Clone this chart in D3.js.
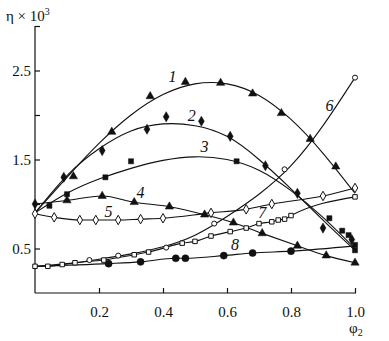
<!DOCTYPE html>
<html>
<head>
<meta charset="utf-8">
<script src="https://cdn.jsdelivr.net/npm/d3@7/dist/d3.min.js"></script>
<style>
  html, body { margin: 0; padding: 0; background: #fff; }
  svg { display: block; }
  text { font-family: "Liberation Serif", "DejaVu Serif", serif; fill: #111; }
</style>
</head>
<body>
<svg id="chart" width="389" height="341"></svg>
<script>
// Volume fraction grid used for the fitted curves
const phiGrid = [0, 0.1, 0.2, 0.3, 0.4, 0.5, 0.6, 0.7, 0.8, 0.9, 1.0];

// Fitted curves (η × 10³) on phiGrid
const fit1 = [0.90, 1.30, 1.68, 2.00, 2.23, 2.35, 2.35, 2.22, 1.95, 1.57, 1.12];
const fit2 = [0.90, 1.32, 1.62, 1.82, 1.90, 1.88, 1.76, 1.50, 1.17, 0.82, 0.48];
const fit3 = [0.90, 1.12, 1.28, 1.40, 1.49, 1.53, 1.50, 1.38, 1.15, 0.85, 0.50];
const fit6 = [0.30, 0.33, 0.38, 0.44, 0.52, 0.65, 0.86, 1.11, 1.43, 1.88, 2.42];

// Measured points [φ2, η × 10³]
const pts1 = [[0.12, 1.31], [0.24, 1.81], [0.36, 2.21], [0.47, 2.37], [0.58, 2.36],
              [0.68, 2.24], [0.77, 2.02], [0.86, 1.73], [0.94, 1.42]];
const pts2 = [[0, 1.00], [0.09, 1.30], [0.21, 1.60], [0.35, 1.84], [0.41, 1.98],
              [0.52, 1.93], [0.61, 1.76], [0.72, 1.43], [0.82, 1.12], [0.90, 0.73],
              [0.99, 0.60]];
const pts3 = [[0.045, 0.98], [0.10, 1.11], [0.22, 1.30], [0.30, 1.48], [0.63, 1.48],
              [0.92, 0.84], [0.96, 0.70], [0.98, 0.65], [1.0, 0.54], [1.0, 0.48]];
const pts4 = [[0, 1.00], [0.10, 1.04], [0.21, 1.09], [0.31, 1.02], [0.42, 0.97],
              [0.53, 0.88], [0.62, 0.79], [0.71, 0.67], [0.82, 0.53], [0.91, 0.42],
              [1.0, 0.34]];
const pts5 = [[0, 0.89], [0.06, 0.85], [0.14, 0.82], [0.19, 0.82], [0.26, 0.82],
              [0.33, 0.83], [0.40, 0.84], [0.55, 0.90], [0.66, 0.94], [0.74, 1.00],
              [0.90, 1.09], [1.0, 1.18]];
const pts6 = [[0.17, 0.37], [0.26, 0.42], [0.41, 0.51], [0.56, 0.78], [0.78, 1.39],
              [1.0, 2.42]];
const pts7 = [[0, 0.30], [0.04, 0.30], [0.085, 0.32], [0.125, 0.34], [0.215, 0.37],
              [0.31, 0.43], [0.355, 0.46], [0.46, 0.56], [0.50, 0.58], [0.55, 0.64],
              [0.61, 0.69], [0.66, 0.73], [0.70, 0.78], [0.74, 0.80], [0.76, 0.82],
              [0.78, 0.83], [0.80, 0.87], [1.0, 1.08]];
const line8 = [[0, 0.30], [0.23, 0.33], [0.33, 0.35], [0.44, 0.39], [0.47, 0.39],
               [0.59, 0.42], [0.68, 0.45], [0.80, 0.47], [1.0, 0.53]];
const pts8 = [[0.23, 0.33], [0.33, 0.35], [0.44, 0.39], [0.47, 0.39],
              [0.59, 0.42], [0.68, 0.45], [0.80, 0.47]];

// Axis ticks
const xTicks = [0.2, 0.4, 0.6, 0.8, 1.0];
const yTicks = [0.5, 1.0, 1.5, 2.0, 2.5, 3.0];
const yLabelled = [0.5, 1.5, 2.5];

// Curve numbers and where they sit [label, φ2, η × 10³]
const curveLabels = [["1", 0.43, 2.43], ["2", 0.49, 2.00], ["3", 0.53, 1.65],
                     ["4", 0.33, 1.13], ["5", 0.23, 0.92], ["6", 0.92, 2.11],
                     ["7", 0.71, 0.90], ["8", 0.625, 0.54]];

const svg = d3.select("#chart");
const x = d3.scaleLinear().domain([0, 1]).range([35, 355]);
const y = d3.scaleLinear().domain([0, 3]).range([293, 26]);

const ink = "#111";

// Axes with inward ticks
const xAxis = d3.axisBottom(x).tickValues(xTicks).tickFormat(d3.format(".1f"))
  .tickSizeInner(-5).tickSizeOuter(0).tickPadding(13);
const yAxis = d3.axisLeft(y).tickValues(yTicks)
  .tickFormat(d => yLabelled.includes(d) ? d3.format(".1f")(d) : "")
  .tickSizeInner(-5).tickSizeOuter(0).tickPadding(4);

const gx = svg.append("g").attr("transform", "translate(0,293)").call(xAxis);
const gy = svg.append("g").attr("transform", "translate(35,0)").call(yAxis);
[gx, gy].forEach(g => {
  g.select(".domain").attr("stroke", ink).attr("stroke-width", 1.2);
  g.selectAll(".tick line").attr("stroke", ink).attr("stroke-width", 1.2);
  g.selectAll(".tick text").attr("font-family", "Liberation Serif, serif")
    .attr("font-size", 15).attr("fill", ink);
});
gx.select(".domain").attr("d", `M${x(0)},0H${x(1) + 1}`);
gy.select(".domain").attr("d", `M0,${y(0)}V${y(3)}`);

// Axis titles
const yt = svg.append("text").attr("x", 6).attr("y", 21).attr("font-size", 15);
yt.append("tspan").text("η × 10");
yt.append("tspan").attr("dy", -6).attr("font-size", 10).text("3");

const xt = svg.append("text").attr("x", 349).attr("y", 333).attr("font-size", 15);
xt.append("tspan").text("φ");
xt.append("tspan").attr("dy", 3).attr("font-size", 10).text("2");

// Lines
const lineGen = d3.line().x(d => x(d[0])).y(d => y(d[1])).curve(d3.curveMonotoneX);
const smoothGen = d3.line().x(d => x(d[0])).y(d => y(d[1])).curve(d3.curveNatural);
const onGrid = vals => phiGrid.map((p, i) => [p, vals[i]]);

const lines = [
  [smoothGen, onGrid(fit1)], [smoothGen, onGrid(fit2)], [smoothGen, onGrid(fit3)],
  [smoothGen, onGrid(fit6)], [lineGen, pts4], [lineGen, pts5], [lineGen, pts7],
  [lineGen, line8]
];
svg.append("g").selectAll("path").data(lines).join("path")
  .attr("d", d => d[0](d[1]))
  .attr("fill", "none").attr("stroke", ink).attr("stroke-width", 1.1);

// Markers
function markers(data, type, size, filled) {
  svg.append("g").selectAll("path").data(data).join("path")
    .attr("transform", d => `translate(${x(d[0])},${y(d[1])})`)
    .attr("d", d3.symbol().type(type).size(size)())
    .attr("fill", filled ? ink : "#fff")
    .attr("stroke", ink).attr("stroke-width", filled ? 0.5 : 1);
}
markers(pts1, d3.symbolTriangle, 30, true);
markers(pts4.slice(1), d3.symbolTriangle, 30, true);
markers(pts3, d3.symbolSquare, 26, true);
markers(pts2, d3.symbolDiamond, 30, true);
markers(pts8, d3.symbolCircle, 40, true);
markers(pts7, d3.symbolSquare, 20, false);
markers(pts6, d3.symbolCircle, 20, false);
markers(pts5, d3.symbolDiamond, 26, false);

// Curve numbers
svg.append("g").selectAll("text").data(curveLabels).join("text")
  .attr("x", d => x(d[1])).attr("y", d => y(d[2]))
  .attr("text-anchor", "middle").attr("dominant-baseline", "central")
  .attr("font-size", 16).attr("font-style", "italic")
  .text(d => d[0]);
</script>
</body>
</html>
